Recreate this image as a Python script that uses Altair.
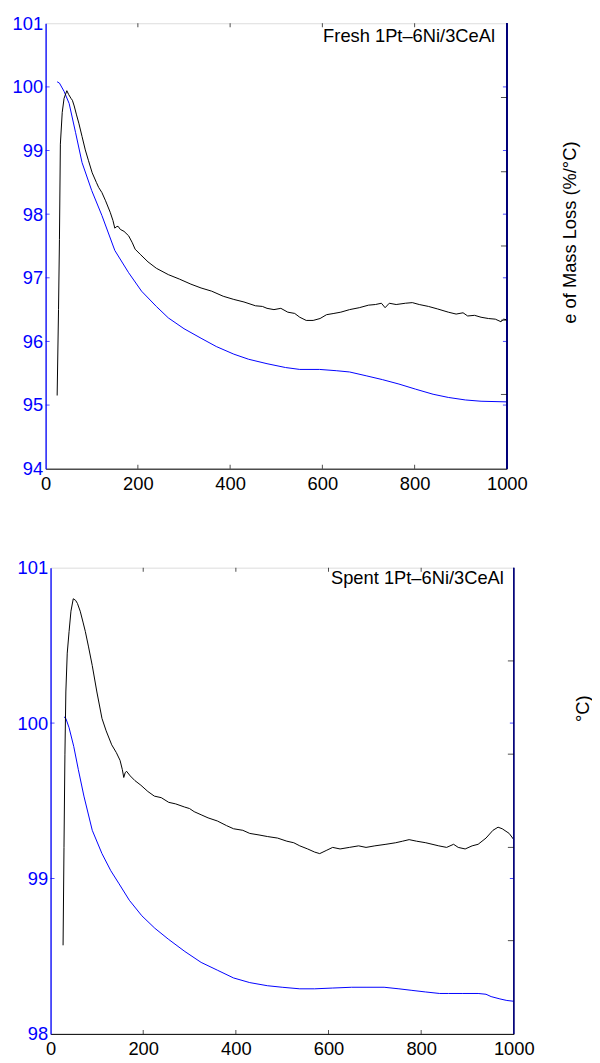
import altair as alt
import pandas as pd

# ---------------- data ----------------
fresh_T = [25, 30, 40, 51, 65, 79, 100, 122, 150, 180, 208, 240, 266, 300, 337, 370, 408, 440,
           480, 520, 551, 594, 630, 659, 695, 730, 766, 802, 840, 873, 910, 944, 1000]
fresh_mass = [100.08, 100.06, 99.93, 99.74, 99.28, 98.81, 98.37, 97.98, 97.43, 97.08, 96.79, 96.55,
              96.37, 96.20, 96.05, 95.92, 95.80, 95.72, 95.65, 95.59, 95.56, 95.56, 95.54, 95.52,
              95.46, 95.40, 95.33, 95.25, 95.17, 95.12, 95.08, 95.06, 95.05]

fresh_rate_T = [25, 28, 30, 32, 36, 40, 46, 50, 55, 58, 62, 67, 72, 79, 86, 93, 101, 110, 115, 122,
                130, 140, 146, 150, 153, 157, 162, 170, 180, 188, 194, 205, 222, 240, 266, 290, 315,
                337, 360, 385, 408, 430, 455, 470, 480, 495, 510, 525, 540, 551, 565, 580, 595, 609,
                625, 640, 659, 680, 700, 715, 728, 736, 745, 760, 780, 795, 810, 830, 850, 873, 890,
                905, 915, 930, 944, 960, 975, 987, 993, 1000]
fresh_rate = [95.15, 96.5, 97.6, 99.1, 99.6, 99.82, 99.94, 99.88, 99.82, 99.79, 99.70, 99.56, 99.43,
              99.22, 99.01, 98.84, 98.65, 98.50, 98.42, 98.34, 98.21, 98.03, 97.90, 97.78, 97.80,
              97.81, 97.76, 97.73, 97.66, 97.55, 97.45, 97.37, 97.25, 97.15, 97.05, 96.98, 96.90,
              96.84, 96.79, 96.71, 96.66, 96.62, 96.56, 96.55, 96.52, 96.50, 96.52, 96.46, 96.44,
              96.38, 96.33, 96.33, 96.36, 96.42, 96.44, 96.46, 96.50, 96.53, 96.57, 96.58, 96.60,
              96.53, 96.60, 96.58, 96.60, 96.61, 96.58, 96.55, 96.51, 96.46, 96.43, 96.45, 96.40,
              96.41, 96.38, 96.36, 96.35, 96.31, 96.35, 96.34]

spent_T = [29, 33, 40, 50, 60, 72, 90, 111, 130, 147, 170, 197, 225, 254, 290, 325, 360, 395, 430,
           468, 500, 538, 570, 609, 650, 681, 720, 752, 780, 809, 840, 859, 890, 923, 940, 951, 970,
           985, 1000]
spent_mass = [100.04, 100.03, 99.97, 99.85, 99.70, 99.53, 99.31, 99.16, 99.05, 98.97, 98.86, 98.76,
              98.68, 98.61, 98.53, 98.46, 98.41, 98.36, 98.33, 98.31, 98.30, 98.29, 98.29, 98.295,
              98.30, 98.30, 98.30, 98.29, 98.28, 98.27, 98.26, 98.26, 98.26, 98.26, 98.255, 98.24,
              98.225, 98.215, 98.21]

spent_rate_T = [27, 29, 31, 33, 36, 40, 44, 49, 54, 58, 64, 70, 75, 82, 90, 100, 111, 120, 132, 142,
                150, 155, 158, 161, 164, 172, 182, 195, 210, 224, 239, 255, 270, 289, 300, 310, 325,
                340, 360, 380, 395, 415, 430, 450, 468, 490, 510, 525, 538, 555, 570, 581, 595, 609,
                625, 645, 665, 681, 700, 724, 745, 760, 774, 790, 810, 838, 855, 870, 880, 895, 910,
                923, 940, 955, 966, 975, 990, 1000]
spent_rate = [98.57, 99.2, 99.8, 100.2, 100.45, 100.59, 100.72, 100.80, 100.79, 100.77, 100.72,
              100.65, 100.59, 100.49, 100.37, 100.20, 100.03, 99.95, 99.86, 99.81, 99.76, 99.70,
              99.65, 99.68, 99.69, 99.66, 99.63, 99.60, 99.56, 99.53, 99.52, 99.49, 99.48, 99.46,
              99.45, 99.43, 99.41, 99.39, 99.37, 99.34, 99.32, 99.31, 99.29, 99.28, 99.27, 99.26,
              99.24, 99.23, 99.21, 99.19, 99.17, 99.16, 99.18, 99.20, 99.19, 99.20, 99.21, 99.20,
              99.21, 99.22, 99.23, 99.24, 99.25, 99.24, 99.23, 99.21, 99.20, 99.22, 99.20, 99.19,
              99.21, 99.22, 99.26, 99.31, 99.33, 99.32, 99.29, 99.25]

x_ticks = [0, 200, 400, 600, 800, 1000]
fresh_y_ticks = [94, 95, 96, 97, 98, 99, 100, 101]
spent_y_ticks = [98, 99, 100, 101]

BLUE = "#0000ff"
NAVY = "#00007a"
FONT = "Liberation Sans"
FS = 18.5


def panel(mass_T, mass, rate_T, rate, y_ticks, n_right, label, w, h,
          right_title, rtx, rty, lab_dx, lab_dy):
    ymin, ymax = y_ticks[0], y_ticks[-1]
    xs = alt.Scale(domain=[0, 1000], nice=False, zero=False)
    ys = alt.Scale(domain=[ymin, ymax], nice=False, zero=False)
    x_axis = alt.Axis(values=x_ticks, format="d", labelFontSize=FS, labelFont=FONT,
                      labelColor="black", domainColor="black", domainWidth=1, ticks=False,
                      grid=False, title=None, labelPadding=6, labelFlush=False,
                      labelOverlap=False)
    y_axis = alt.Axis(values=y_ticks, format="d", labelFontSize=FS, labelFont=FONT,
                      labelColor=BLUE, domainColor=BLUE, domainWidth=1.3, ticks=False,
                      grid=False, labelPadding=3, labelFlush=False, labelOverlap=False,
                      title=None)

    X = lambda f: alt.X(f, type="quantitative", scale=xs, axis=x_axis)
    Y = lambda f: alt.Y(f, type="quantitative", scale=ys, axis=y_axis)

    d_mass = pd.DataFrame({"T": mass_T, "v": mass})
    d_rate = pd.DataFrame({"T": rate_T, "v": rate})
    mass_line = alt.Chart(d_mass).mark_line(color=BLUE, strokeWidth=1).encode(x=X("T"), y=Y("v"))
    rate_line = alt.Chart(d_rate).mark_line(color="black", strokeWidth=1).encode(x=X("T"), y=Y("v"))

    inner_x = [t for t in x_ticks if 0 < t < 1000]
    d_bt = pd.DataFrame({"T": inner_x, "v": [ymin] * len(inner_x)})
    d_tt = pd.DataFrame({"T": inner_x, "v": [ymax] * len(inner_x)})
    inner_y = [v for v in y_ticks if ymin < v < ymax]
    d_lt = pd.DataFrame({"T": [0] * len(inner_y), "v": inner_y})
    d_rt = pd.DataFrame({"T": [1000] * len(inner_y), "v": inner_y})

    bt = alt.Chart(d_bt).mark_tick(orient="vertical", size=4, thickness=1, color="black",
                                   yOffset=-2).encode(x=X("T"), y=Y("v"))
    tt = alt.Chart(d_tt).mark_tick(orient="vertical", size=4, thickness=1, color="black",
                                   yOffset=2).encode(x=X("T"), y=Y("v"))
    lt = alt.Chart(d_lt).mark_tick(orient="horizontal", size=4, thickness=1, color=BLUE,
                                   xOffset=2).encode(x=X("T"), y=Y("v"))
    rt = alt.Chart(d_rt).mark_tick(orient="horizontal", size=4, thickness=1, color=BLUE,
                                   xOffset=-2).encode(x=X("T"), y=Y("v"))
    right_edge = alt.Chart(d_rt).mark_rule(color=NAVY, strokeWidth=1.3).encode(x=alt.datum(1000))

    d_lab = pd.DataFrame({"T": [1000], "v": [ymax], "t": [label]})
    lab = alt.Chart(d_lab).mark_text(align="right", baseline="top", font=FONT, fontSize=FS,
                                     color="black", dx=lab_dx, dy=lab_dy).encode(
        x=X("T"), y=Y("v"), text="t:N")

    inner = alt.layer(mass_line, rate_line, bt, tt, lt, rt, right_edge, lab)

    r_vals = list(range(1, n_right))
    d_r = pd.DataFrame({"T": [1000] * len(r_vals), "r": r_vals})
    r_axis = alt.Axis(orient="right", labels=False, ticks=False, domain=False, grid=False,
                      title=right_title, titleAngle=270, titleX=rtx, titleY=rty,
                      titleAlign="center", titleBaseline="middle", titleFont=FONT,
                      titleFontSize=FS, titleFontWeight="normal", titleColor="black")
    rticks = alt.Chart(d_r).mark_tick(orient="horizontal", size=6, thickness=1, color="black",
                                      xOffset=-3).encode(
        x=X("T"),
        y=alt.Y("r:Q", scale=alt.Scale(domain=[0, n_right], nice=False, zero=False), axis=r_axis))

    return alt.layer(inner, rticks).resolve_scale(y="independent").properties(width=w, height=h)


def spacer(wd):
    return alt.Chart(pd.DataFrame({"a": [0]})).mark_point(size=0, opacity=0).encode(
        x=alt.value(0), y=alt.value(0)).properties(
        width=wd, height=1, view=alt.ViewBackground(stroke="transparent"))


top = panel(fresh_T, fresh_mass, fresh_rate_T, fresh_rate, fresh_y_ticks, 6,
            "Fresh 1Pt\u20136Ni/3CeAl", 466, 450, "e of Mass Loss (%/\u00b0C)", 63, 211, -12, 4)
bottom = panel(spent_T, spent_mass, spent_rate_T, spent_rate, spent_y_ticks, 5,
               "Spent 1Pt\u20136Ni/3CeAl", 468, 471, "\u00b0C)", 69, 142, -10, 1)

row1 = alt.hconcat(spacer(1), top, spacing=0)
row2 = alt.hconcat(spacer(6), bottom, spacing=0)

chart = alt.vconcat(row1, row2, spacing=65).properties(
    padding={"left": 0, "top": 0, "right": 0, "bottom": 0}
).configure_view(stroke="black", strokeWidth=1).configure(font=FONT, background="white")

chart.save("out.html", embed_options={"renderer": "svg", "actions": False})
